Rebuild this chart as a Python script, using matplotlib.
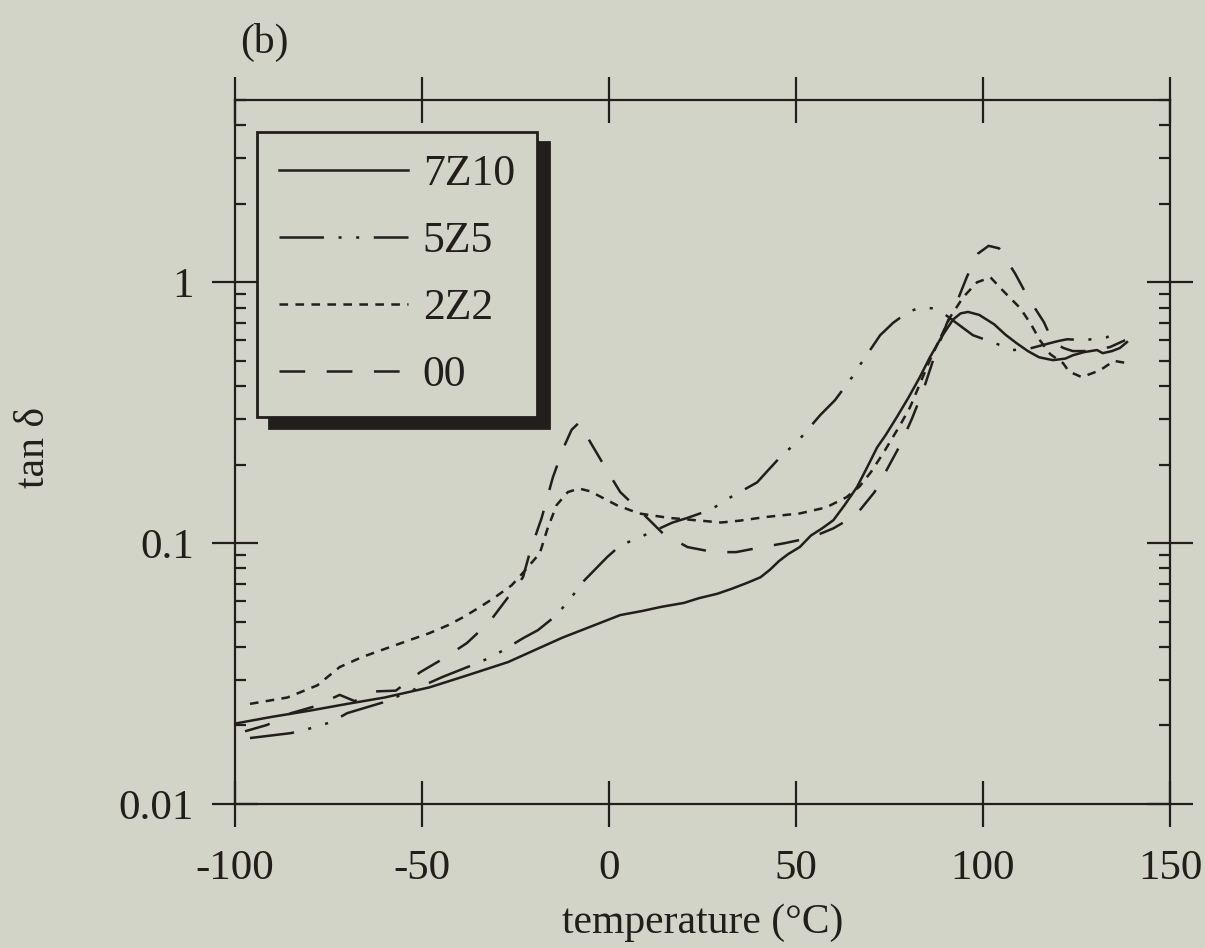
import matplotlib
matplotlib.use('Agg')
import matplotlib.pyplot as plt
from matplotlib.ticker import LogLocator, NullFormatter, FixedLocator

plt.rcParams['font.family'] = ['Liberation Serif', 'DejaVu Serif']
plt.rcParams['axes.unicode_minus'] = False
plt.rcParams['lines.scale_dashes'] = False

BG = '#d1d4c6'
INK = '#221e1b'

# ---------------- data ----------------
series_names = ['7Z10', '5Z5', '2Z2', '00']

t_7z10 = [-99.5, -90, -80, -70, -60, -48, -38, -27, -18, -12.5, -5, 3, 9, 14, 20, 24,
          29, 33, 37, 40.5, 43, 45.5, 48, 51, 54, 57, 60, 63, 66.3, 69, 71.7, 74, 77,
          80, 83, 85.8, 89, 92, 94, 96, 99, 103, 106, 109, 112, 115, 118.7, 122, 124,
          127, 130.5, 132, 134.5, 136.6, 138.5]
tan_7z10 = [0.0204, 0.0216, 0.0228, 0.0242, 0.0256, 0.028, 0.0311, 0.035, 0.040, 0.0434,
            0.0478, 0.053, 0.055, 0.057, 0.059, 0.0615, 0.064, 0.067, 0.0705, 0.074,
            0.079, 0.0855, 0.091, 0.0966, 0.107, 0.114, 0.1225, 0.14, 0.164, 0.195,
            0.233, 0.26, 0.305, 0.36, 0.43, 0.516, 0.62, 0.72, 0.76, 0.77, 0.75, 0.69,
            0.63, 0.584, 0.545, 0.516, 0.503, 0.51, 0.525, 0.54, 0.55, 0.535, 0.545,
            0.56, 0.59]

t_5z5 = [-96, -85, -78, -74, -70, -60.5, -52, -44.5, -34.5, -30.5, -23, -19, -14, -9.6,
         -7, -0.5, 3, 8, 13.6, 17, 21, 25, 28.5, 32.5, 36, 39.6, 42.5, 46.2, 50.3, 53,
         56.5, 60.4, 65, 67.6, 70.3, 72.5, 76, 80, 83.2, 86.6, 90, 94.4, 97.3, 101,
         104.5, 108, 112, 116, 120, 122.5, 127, 133, 136]
tan_5z5 = [0.0179, 0.0187, 0.0198, 0.0207, 0.0223, 0.0245, 0.0275, 0.0307, 0.035, 0.0372,
           0.0432, 0.0464, 0.053, 0.0632, 0.071, 0.0884, 0.098, 0.105, 0.114, 0.12,
           0.125, 0.131, 0.138, 0.15, 0.16, 0.171, 0.19, 0.217, 0.244, 0.271, 0.31,
           0.353, 0.433, 0.494, 0.563, 0.627, 0.70, 0.77, 0.80, 0.795, 0.75, 0.673,
           0.627, 0.60, 0.575, 0.55, 0.555, 0.575, 0.595, 0.605, 0.60, 0.615, 0.643]

t_2z2 = [-96, -86, -78, -72, -66, -57, -48, -43, -39, -34.5, -30.5, -26, -23, -18.5,
         -16.5, -14, -11, -8, -5, -2, 2, 8, 16, 23, 30, 35, 42, 51, 58, 63.5, 67, 70,
         73.3, 77.8, 80.5, 85.8, 91.2, 94.7, 98.4, 102, 105.3, 110, 113, 115.2, 118,
         121.4, 123, 126.4, 131.3, 135, 138.5]
tan_2z2 = [0.0242, 0.0256, 0.0285, 0.0335, 0.0366, 0.0407, 0.0452, 0.0485, 0.052,
           0.0569, 0.062, 0.069, 0.077, 0.0915, 0.113, 0.14, 0.157, 0.162, 0.158, 0.15,
           0.14, 0.13, 0.125, 0.1225, 0.12, 0.122, 0.126, 0.13, 0.137, 0.15, 0.165,
           0.187, 0.221, 0.283, 0.332, 0.503, 0.735, 0.877, 1.0, 1.045, 0.93, 0.795,
           0.684, 0.60, 0.53, 0.49, 0.455, 0.433, 0.46, 0.50, 0.49]

t_00 = [-97.3, -91.4, -85, -79, -72, -68, -63, -57, -50.5, -44, -38, -32, -27, -23, -21,
        -18, -15, -12, -10, -8, -5, -1, 3, 9, 14.4, 21, 28, 34, 40, 47, 54, 60, 66, 71,
        74.6, 77.8, 81, 84, 87, 90.4, 93, 95.7, 98.7, 101.5, 104.3, 108.6, 112, 116.3,
        118.7, 121.5, 124, 127, 130, 134, 138]
tan_00 = [0.019, 0.0201, 0.0223, 0.0236, 0.0262, 0.0248, 0.027, 0.0272, 0.032, 0.0363,
          0.0414, 0.0498, 0.062, 0.074, 0.094, 0.125, 0.179, 0.235, 0.272, 0.29, 0.244,
          0.195, 0.157, 0.13, 0.109, 0.0966, 0.0924, 0.0924, 0.096, 0.10, 0.105, 0.114,
          0.128, 0.157, 0.195, 0.237, 0.30, 0.385, 0.52, 0.70, 0.84, 1.05, 1.29, 1.38,
          1.35, 1.08, 0.877, 0.703, 0.59, 0.56, 0.545, 0.545, 0.55, 0.565, 0.60]

x_ticks = [-100, -50, 0, 50, 100, 150]
x_tick_labels = ['-100', '-50', '0', '50', '100', '150']
y_ticks = [0.01, 0.1, 1]
y_tick_labels = ['0.01', '0.1', '1']
x_limits = (-100, 150)
y_limits = (0.01, 5)

x_label = 'temperature (°C)'
y_label = 'tan δ'
panel_label = '(b)'

# ---------------- styles ----------------
LW = 1.8
styles = {
    '7Z10': dict(linestyle='-'),
    '5Z5': dict(dashes=(32, 10.5, 2.2, 10.5, 2.2, 10.5)),
    '2Z2': dict(dashes=(6.2, 5.3)),
    '00': dict(dashes=(18.5, 15.5)),
}

fig = plt.figure(figsize=(12.05, 9.48), dpi=100, facecolor=BG)
ax = fig.add_axes([235 / 1205, 1 - 804 / 948, 935 / 1205, 704 / 948])
ax.set_facecolor(BG)
ax.set_yscale('log')

series = [(t_7z10, tan_7z10), (t_5z5, tan_5z5), (t_2z2, tan_2z2), (t_00, tan_00)]
handles = []
for name, (tx, ty) in zip(series_names, series):
    h, = ax.plot(tx, ty, color=INK, lw=LW, label=name, **styles[name])
    handles.append(h)

ax.set_xlim(*x_limits)
ax.set_ylim(*y_limits)
ax.set_xticks(x_ticks)
ax.set_xticklabels(x_tick_labels)
ax.yaxis.set_major_locator(FixedLocator(y_ticks))
ax.set_yticklabels(y_tick_labels)
ax.yaxis.set_minor_locator(LogLocator(base=10, subs=(2, 3, 4, 5, 6, 7, 8, 9)))
ax.yaxis.set_minor_formatter(NullFormatter())

for s in ax.spines.values():
    s.set_linewidth(1.6)
    s.set_color(INK)

ax.tick_params(which='major', direction='inout', length=33, width=1.6,
               top=True, right=True, color=INK, labelcolor=INK, labelsize=31)
ax.tick_params(axis='x', which='major', pad=16)
ax.tick_params(axis='y', which='major', pad=13)
ax.tick_params(which='minor', direction='in', length=8, width=1.6,
               right=True, color=INK)

ax.set_xlabel(x_label, fontsize=30, color=INK)
ax.xaxis.set_label_coords(0.5, -0.141)
ax.set_ylabel(y_label, fontsize=30, color=INK)
ax.yaxis.set_label_coords(-0.195, 0.507)

leg = ax.legend(handles=handles, labels=series_names, loc='upper left',
                bbox_to_anchor=(0.0235, 0.9545), borderaxespad=0,
                frameon=True, fancybox=False, edgecolor=INK, facecolor=BG,
                framealpha=1, fontsize=31.5, handlelength=2.95, handletextpad=0.34,
                labelspacing=0.62, borderpad=0.5,
                shadow={'ox': 8.5, 'oy': -7.5, 'color': INK, 'alpha': 1})
leg.get_frame().set_linewidth(2)
for txt in leg.get_texts():
    txt.set_color(INK)

fig.text(240 / 1205, 0.976, panel_label, ha='left', va='top', fontsize=30, color=INK)

fig.savefig('out.png', dpi=100, facecolor=BG)
